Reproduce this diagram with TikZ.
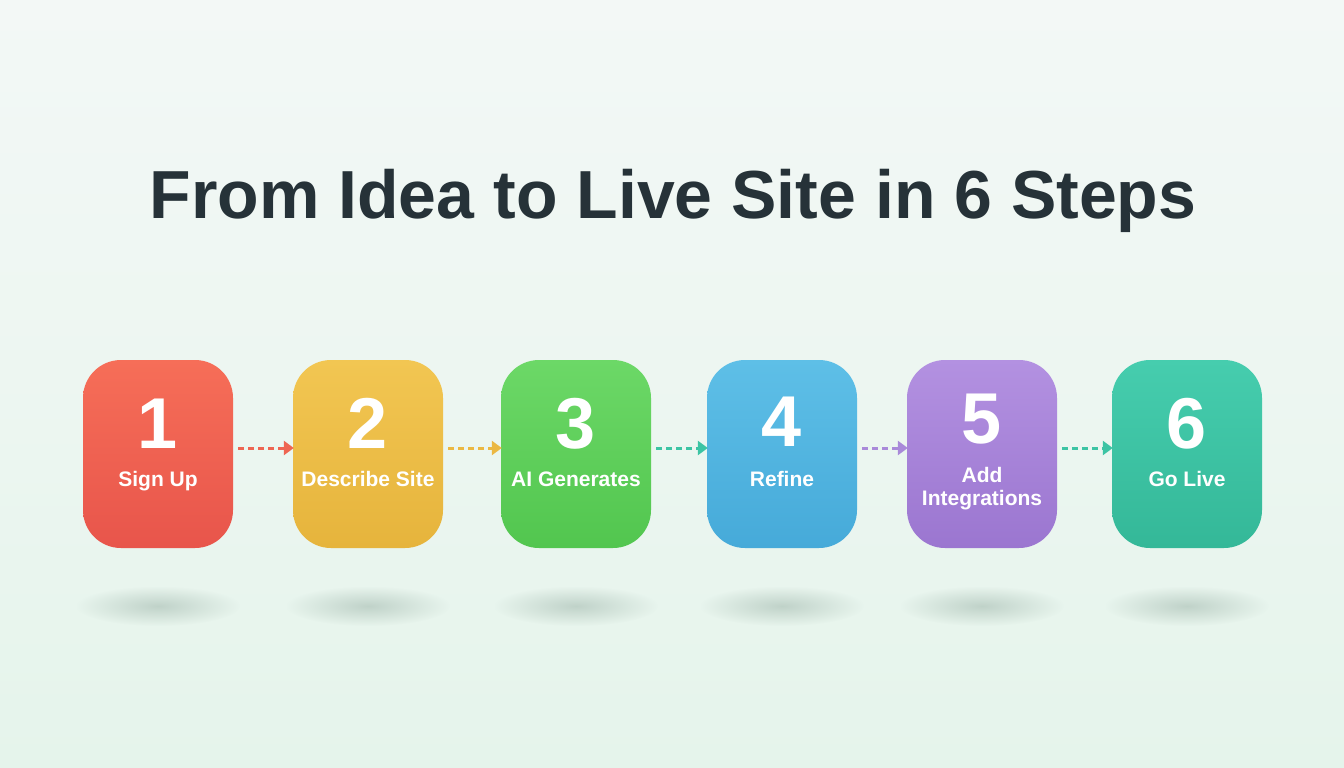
\documentclass[tikz,border=0pt]{standalone}
\usepackage{fontspec}
\setmainfont{Liberation Sans}
\usetikzlibrary{arrows.meta,fadings}
\definecolor{bgout}{HTML}{E5F4EB}
\definecolor{bgin}{HTML}{F3F8F6}
\definecolor{titlec}{HTML}{263238}
\definecolor{shadowc}{HTML}{8FA89C}
\definecolor{redT}{HTML}{F66E58}\definecolor{redB}{HTML}{E8554B}
\definecolor{yelT}{HTML}{F2C652}\definecolor{yelB}{HTML}{E6B43C}
\definecolor{grnT}{HTML}{6CD867}\definecolor{grnB}{HTML}{52C64F}
\definecolor{bluT}{HTML}{5EBFE7}\definecolor{bluB}{HTML}{46AAD9}
\definecolor{purT}{HTML}{B391E1}\definecolor{purB}{HTML}{9B76D0}
\definecolor{tealT}{HTML}{46CDAE}\definecolor{tealB}{HTML}{34B898}
\definecolor{arRed}{HTML}{EE6552}
\definecolor{arYel}{HTML}{EBB843}
\definecolor{arTeal}{HTML}{3CC4A4}
\definecolor{arPur}{HTML}{A98AD9}
\tikzfading[name=softspot, inner color=transparent!55, outer color=transparent!100]
\tikzset{
  stepbox/.style={rounded corners=38pt, minimum width=150pt, minimum height=188pt, inner sep=0pt, draw=none},
  numstyle/.style={text=white, font=\fontsize{72}{80}\selectfont\bfseries, inner sep=0pt},
  lblstyle/.style={text=white, font=\fontsize{21}{25}\selectfont\bfseries, inner sep=0pt},
  flowarrow/.style={line width=3pt, dash pattern=on 6pt off 4pt, -{Triangle[length=10pt,width=14pt]}, shorten >=-1pt},
  softshadow/.style={fill=shadowc, path fading=softspot}
}
\begin{document}
\begin{tikzpicture}[x=1pt,y=-1pt]
\useasboundingbox (0,0) rectangle (1344,768);
\shade[top color=bgin, bottom color=bgout, middle color=bgin!55!bgout] (0,0) rectangle (1344,768);

% title
\node[text=titlec, font=\fontsize{68}{80}\selectfont\bfseries, anchor=base, inner sep=0pt] (title) at (673,218) {From Idea to Live Site in 6 Steps};

% shadows
\foreach \cx in {158,368,576,782,982,1187}{
  \fill[softshadow] (\cx,606) ellipse (82 and 20);
}

% boxes
\node[stepbox, top color=redT, bottom color=redB] (b1) at (158,454) {};
\node[stepbox, top color=yelT, bottom color=yelB] (b2) at (368,454) {};
\node[stepbox, top color=grnT, bottom color=grnB] (b3) at (576,454) {};
\node[stepbox, top color=bluT, bottom color=bluB] (b4) at (782,454) {};
\node[stepbox, top color=purT, bottom color=purB] (b5) at (982,454) {};
\node[stepbox, top color=tealT, bottom color=tealB] (b6) at (1187,454) {};

% numbers
\node[numstyle, anchor=base] (n1) at (158,448) {1};
\node[numstyle, anchor=base] (n2) at (368,448) {2};
\node[numstyle, anchor=base] (n3) at (576,448) {3};
\node[numstyle, anchor=base] (n4) at (782,446) {4};
\node[numstyle, anchor=base] (n5) at (982,443) {5};
\node[numstyle, anchor=base] (n6) at (1187,448) {6};

% labels
\node[lblstyle, anchor=base] (l1) at (158,486) {Sign Up};
\node[lblstyle, anchor=base] (l2) at (368,486) {Describe Site};
\node[lblstyle, anchor=base] (l3) at (576,486) {AI Generates};
\node[lblstyle, anchor=base] (l4) at (782,486) {Refine};
\node[lblstyle, anchor=base] (l5a) at (982,482) {Add};
\node[lblstyle, anchor=base] (l5b) at (982,505) {Integrations};
\node[lblstyle, anchor=base] (l6) at (1187,486) {Go Live};

% arrows
\draw[flowarrow, arRed]  ([xshift=5pt,yshift=6pt]b1.east) -- ([yshift=6pt]b2.west);
\draw[flowarrow, arYel]  ([xshift=5pt,yshift=6pt]b2.east) -- ([yshift=6pt]b3.west);
\draw[flowarrow, arTeal] ([xshift=5pt,yshift=6pt]b3.east) -- ([yshift=6pt]b4.west);
\draw[flowarrow, arPur]  ([xshift=5pt,yshift=6pt]b4.east) -- ([yshift=6pt]b5.west);
\draw[flowarrow, arTeal] ([xshift=5pt,yshift=6pt]b5.east) -- ([yshift=6pt]b6.west);
\end{tikzpicture}
\end{document}
